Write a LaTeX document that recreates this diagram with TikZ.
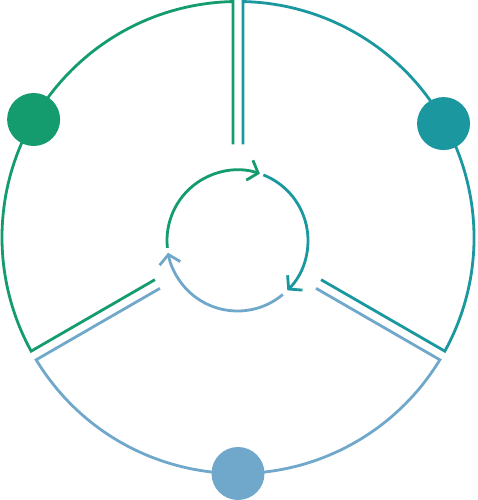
\documentclass[tikz,border=0pt]{standalone}
\usetikzlibrary{arrows.meta,calc}
\definecolor{secgreen}{HTML}{149C6E}
\definecolor{secteal}{HTML}{1A979F}
\definecolor{secblue}{HTML}{70A8CB}
\tikzset{
	sector/.style={line width=2.8pt, miter limit=20},
	cyclearc/.style={line width=2.8pt, -{Straight Barb[length=9pt,width=21pt]}},
	marker/.style={circle, fill=#1, inner sep=0pt, minimum size=53pt}
}
\begin{document}
\begin{tikzpicture}[x=1pt,y=1pt]
	\useasboundingbox (-238,-262.5) rectangle (239,237.5);
	%outer sectors
	\foreach \a/\col in {90/secgreen, 210/secblue, 330/secteal}{
		\draw[sector, \col] ($(\a:93)+(\a+90:5)$) -- ({\a+asin(5/236)}:236)
			arc[start angle={\a+asin(5/236)}, end angle={\a+120-asin(5/236)}, radius=236]
			-- ($(\a+120:93)+(\a+30:5)$);
	}
	
	%inner cycle
	\coordinate (hub) at (-0.5,-3);
	\foreach \s/\e/\col in {186/71.5/secgreen, 68.5/-45/secteal, -50/-170/secblue}{
		\draw[cyclearc, \col] ($(hub)+(\s:70.5)$) arc[start angle=\s, end angle=\e, radius=70.5];
	}
	
	%markers
	\node[marker=secgreen] (dotgreen) at (150:236) {};
	\node[marker=secteal] (dotteal) at (29:235) {};
	\node[marker=secblue] (dotblue) at (270:236) {};
\end{tikzpicture}
\end{document}
